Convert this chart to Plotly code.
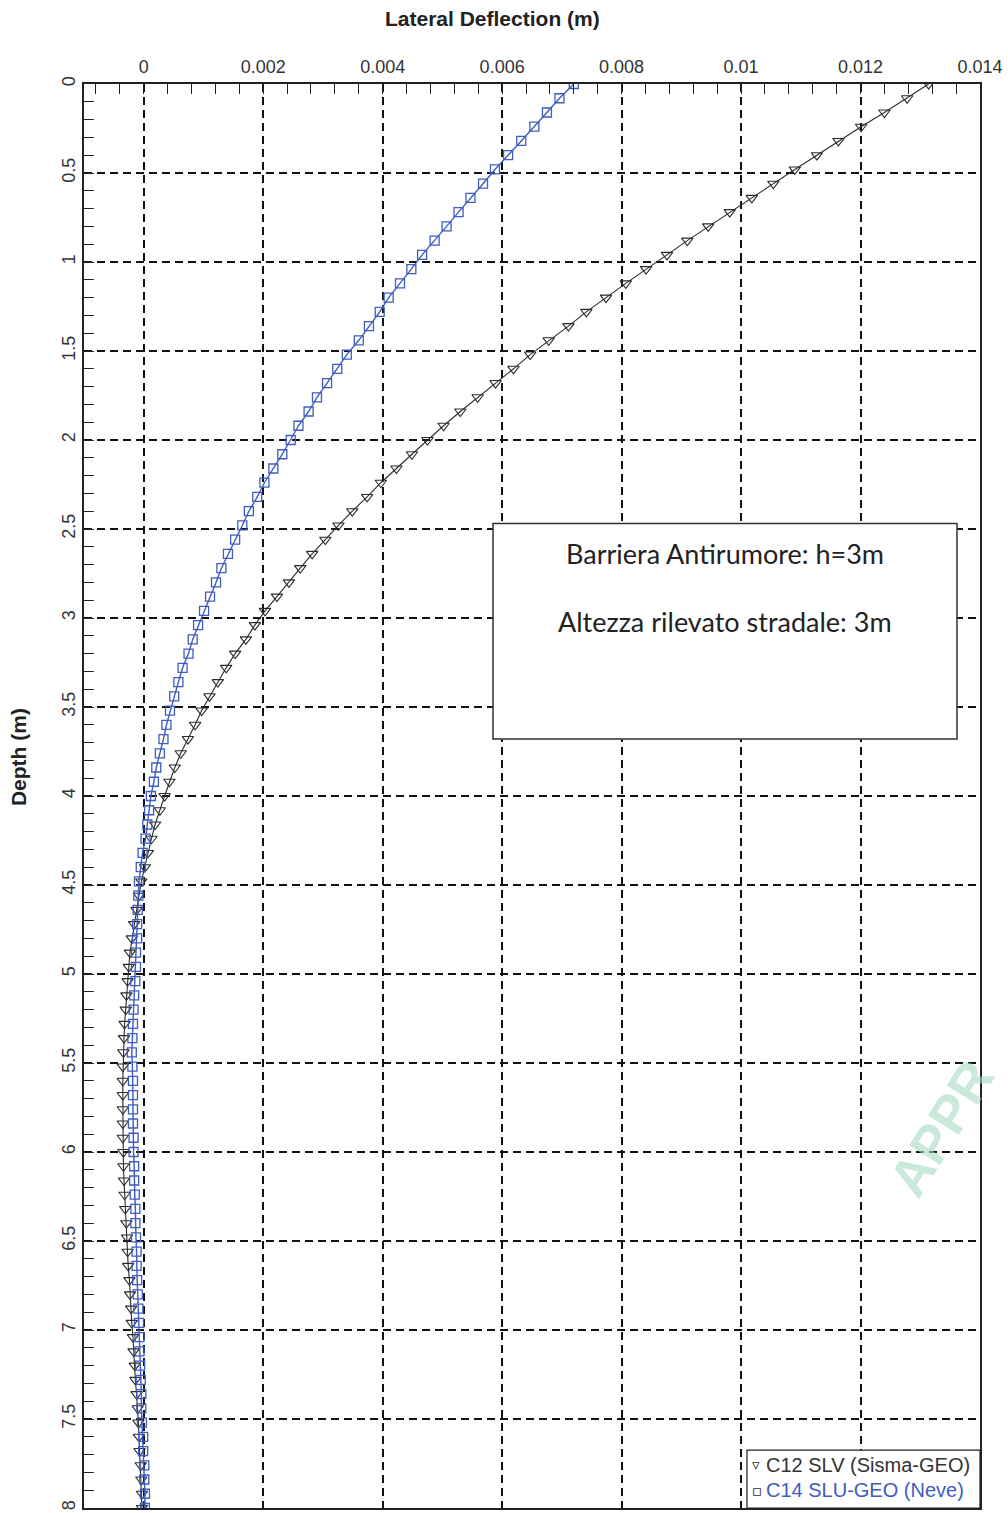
import plotly.graph_objects as go

# Depth below pile head (m)
depth_m = [
    0.00, 0.08, 0.16, 0.24, 0.32, 0.40, 0.48, 0.56, 0.64, 0.72,
    0.80, 0.88, 0.96, 1.04, 1.12, 1.20, 1.28, 1.36, 1.44, 1.52,
    1.60, 1.68, 1.76, 1.84, 1.92, 2.00, 2.08, 2.16, 2.24, 2.32,
    2.40, 2.48, 2.56, 2.64, 2.72, 2.80, 2.88, 2.96, 3.04, 3.12,
    3.20, 3.28, 3.36, 3.44, 3.52, 3.60, 3.68, 3.76, 3.84, 3.92,
    4.00, 4.08, 4.16, 4.24, 4.32, 4.40, 4.48, 4.56, 4.64, 4.72,
    4.80, 4.88, 4.96, 5.04, 5.12, 5.20, 5.28, 5.36, 5.44, 5.52,
    5.60, 5.68, 5.76, 5.84, 5.92, 6.00, 6.08, 6.16, 6.24, 6.32,
    6.40, 6.48, 6.56, 6.64, 6.72, 6.80, 6.88, 6.96, 7.04, 7.12,
    7.20, 7.28, 7.36, 7.44, 7.52, 7.60, 7.68, 7.76, 7.84, 7.92,
    8.00,
]

# Lateral deflection (m), load case C12 SLV (Sisma-GEO)
c12_slv_sisma_geo = [
    0.01314, 0.01278, 0.01240, 0.01201, 0.01163, 0.01127, 0.01090, 0.01054, 0.01018, 0.00981,
    0.00945, 0.00910, 0.00876, 0.00841, 0.00807, 0.00774, 0.00741, 0.00711, 0.00678, 0.00647,
    0.00619, 0.00589, 0.00559, 0.00530, 0.00502, 0.00475, 0.00449, 0.00423, 0.00397, 0.00374,
    0.00349, 0.00326, 0.00304, 0.00282, 0.00262, 0.00243, 0.00223, 0.00203, 0.00186, 0.00171,
    0.00153, 0.00138, 0.00124, 0.00110, 0.00097, 0.00086, 0.00074, 0.00062, 0.00052, 0.00043,
    0.00035, 0.00027, 0.00019, 0.00013, 0.00007, 0.00002, -0.00004, -0.00008, -0.00012, -0.00016,
    -0.00020, -0.00023, -0.00025, -0.00027, -0.00029, -0.00030, -0.00032, -0.00033, -0.00034, -0.00035,
    -0.00035, -0.00035, -0.00035, -0.00035, -0.00035, -0.00034, -0.00034, -0.00033, -0.00032, -0.00031,
    -0.00029, -0.00028, -0.00027, -0.00026, -0.00024, -0.00023, -0.00021, -0.00020, -0.00018, -0.00017,
    -0.00015, -0.00014, -0.00012, -0.00010, -0.00009, -0.00008, -0.00007, -0.00005, -0.00004, -0.00003,
    -0.00003,
]

# Lateral deflection (m), load case C14 SLU-GEO (Neve)
c14_slu_geo_neve = [
    0.00720, 0.00696, 0.00675, 0.00654, 0.00632, 0.00610, 0.00588, 0.00568, 0.00547, 0.00527,
    0.00507, 0.00487, 0.00466, 0.00448, 0.00429, 0.00410, 0.00395, 0.00377, 0.00360, 0.00340,
    0.00324, 0.00307, 0.00290, 0.00276, 0.00259, 0.00246, 0.00232, 0.00217, 0.00202, 0.00190,
    0.00176, 0.00165, 0.00153, 0.00141, 0.00130, 0.00121, 0.00111, 0.00101, 0.00091, 0.00082,
    0.00075, 0.00065, 0.00058, 0.00051, 0.00044, 0.00038, 0.00033, 0.00027, 0.00021, 0.00017,
    0.00012, 0.00009, 0.00006, 0.00003, -0.00002, -0.00005, -0.00008, -0.00009, -0.00010, -0.00011,
    -0.00011, -0.00013, -0.00013, -0.00014, -0.00016, -0.00017, -0.00018, -0.00019, -0.00020, -0.00019,
    -0.00018, -0.00018, -0.00018, -0.00018, -0.00017, -0.00017, -0.00016, -0.00016, -0.00015, -0.00014,
    -0.00014, -0.00013, -0.00012, -0.00012, -0.00011, -0.00010, -0.00009, -0.00008, -0.00007, -0.00007,
    -0.00006, -0.00005, -0.00004, -0.00004, -0.00003, -0.00001, -0.00001, 0.00001, 0.00001, 0.00002,
    0.00002,
]

x_tickvals = [0, 0.002, 0.004, 0.006, 0.008, 0.010, 0.012, 0.014]
x_ticktext = ["0", "0.002", "0.004", "0.006", "0.008", "0.01", "0.012", "0.014"]
y_tickvals = [0, 0.5, 1, 1.5, 2, 2.5, 3, 3.5, 4, 4.5, 5, 5.5, 6, 6.5, 7, 7.5, 8]
y_ticktext = ["0", "0.5", "1", "1.5", "2", "2.5", "3", "3.5", "4", "4.5",
              "5", "5.5", "6", "6.5", "7", "7.5", "8"]

series_names = ["C12 SLV (Sisma-GEO)", "C14 SLU-GEO (Neve)"]
note_lines = ["Barriera Antirumore: h=3m", "Altezza rilevato stradale: 3m"]

W, H = 1008, 1513
PL, PR, PT, PB = 84, 980, 84, 1510
BLACK_C = "#2b2b2b"
BLUE_C = "#3f5cc0"


def fx(x):
    """Pixel column -> paper x."""
    return (x - PL) / (PR - PL)


def fy(y):
    """Pixel row -> paper y."""
    return (PB - y) / (PB - PT)


fig = go.Figure()

fig.add_trace(go.Scatter(
    x=c12_slv_sisma_geo, y=depth_m, mode="lines+markers", name=series_names[0],
    line=dict(color=BLACK_C, width=1.1),
    marker=dict(symbol="triangle-down-open", size=10, color=BLACK_C, line=dict(width=1.1)),
    showlegend=False,
))
fig.add_trace(go.Scatter(
    x=c14_slu_geo_neve, y=depth_m, mode="lines+markers", name=series_names[1],
    line=dict(color=BLUE_C, width=1.4),
    marker=dict(symbol="square-open", size=9, color=BLUE_C, line=dict(width=1.3)),
    showlegend=False,
))

tick_font = dict(family="Liberation Sans, Arial, sans-serif", size=18, color="#333333")
grid_dash = "8px,5px"
GRID_C = "#111111"

fig.update_xaxes(
    side="top", range=[-0.001, 0.014],
    tickmode="array", tickvals=x_tickvals, ticktext=x_ticktext,
    ticks="inside", ticklen=10, tickcolor="#222222", tickwidth=1,
    tickfont=tick_font, ticklabelstandoff=2,
    showgrid=True, gridcolor=GRID_C, gridwidth=1.6, griddash=grid_dash,
    zeroline=False,
    showline=True, linecolor="#222222", linewidth=1.5, mirror=True,
    minor=dict(tickmode="linear", tick0=0, dtick=0.0004, ticks="inside",
               ticklen=10, tickcolor="#222222", tickwidth=1, showgrid=False),
)
fig.update_yaxes(
    range=[8, 0],
    tickmode="array", tickvals=y_tickvals, ticktext=y_ticktext,
    tickangle=-90,
    ticks="inside", ticklen=10, tickcolor="#222222", tickwidth=1,
    tickfont=tick_font, ticklabelstandoff=0,
    showgrid=True, gridcolor=GRID_C, gridwidth=1.6, griddash=grid_dash,
    zeroline=False,
    showline=True, linecolor="#222222", linewidth=1.5, mirror=True,
    minor=dict(tickmode="linear", tick0=0, dtick=0.1, ticks="inside",
               ticklen=10, tickcolor="#222222", tickwidth=1, showgrid=False),
)

title_font = dict(family="Liberation Sans, Arial, sans-serif", size=21, color="#222222")
note_font = dict(family="Lato, Open Sans, sans-serif", size=27, color="#222222")
legend_font = dict(family="Liberation Sans, Arial, sans-serif", size=20)

annotations = [
    dict(text="<b>Lateral Deflection (m)</b>", x=fx(492), y=fy(18), xref="paper", yref="paper",
         showarrow=False, font=title_font, xanchor="center", yanchor="middle"),
    dict(text="<b>Depth (m)</b>", x=fx(18), y=fy(758), xref="paper", yref="paper",
         showarrow=False, font=title_font, textangle=-90, xanchor="center", yanchor="middle"),
    dict(text=note_lines[0], x=fx(725), y=fy(554), xref="paper", yref="paper",
         showarrow=False, font=note_font, xanchor="center", yanchor="middle"),
    dict(text=note_lines[1], x=fx(725), y=fy(622), xref="paper", yref="paper",
         showarrow=False, font=note_font, xanchor="center", yanchor="middle"),
    # legend entries
    dict(text="▿", x=fx(750), y=fy(1467), xref="paper", yref="paper", showarrow=False,
         font=dict(family="DejaVu Sans", size=15, color=BLACK_C), xanchor="left", yanchor="middle"),
    dict(text=series_names[0], x=fx(764), y=fy(1467), xref="paper", yref="paper", showarrow=False,
         font=dict(legend_font, color="#333333"), xanchor="left", yanchor="middle"),
    dict(text="▫", x=fx(750), y=fy(1493), xref="paper", yref="paper", showarrow=False,
         font=dict(family="DejaVu Sans", size=15, color=BLACK_C), xanchor="left", yanchor="middle"),
    dict(text=series_names[1], x=fx(764), y=fy(1492), xref="paper", yref="paper", showarrow=False,
         font=dict(legend_font, color=BLUE_C), xanchor="left", yanchor="middle"),
    # faint stamp near the right edge
    dict(text="<b>APPR</b>", x=fx(941), y=fy(1130), xref="paper", yref="paper",
         showarrow=False, textangle=-58, opacity=0.6,
         font=dict(family="Liberation Sans, Arial, sans-serif", size=53, color="#a9dcc4"),
         xanchor="center", yanchor="middle"),
]

shapes = [
    dict(type="rect", xref="paper", yref="paper", x0=fx(493), x1=fx(957), y0=fy(740), y1=fy(524),
         line=dict(color="#333333", width=1.5), fillcolor="white", layer="above"),
    dict(type="rect", xref="paper", yref="paper", x0=fx(747), x1=fx(980), y0=fy(1510), y1=fy(1452),
         line=dict(color="#222222", width=1.2), fillcolor="white", layer="above"),
]

fig.update_layout(
    width=W, height=H,
    margin=dict(l=PL, r=W - PR, t=PT, b=H - PB),
    paper_bgcolor="white", plot_bgcolor="white",
    annotations=annotations, shapes=shapes,
    showlegend=False,
)

fig.write_html("out.html")
